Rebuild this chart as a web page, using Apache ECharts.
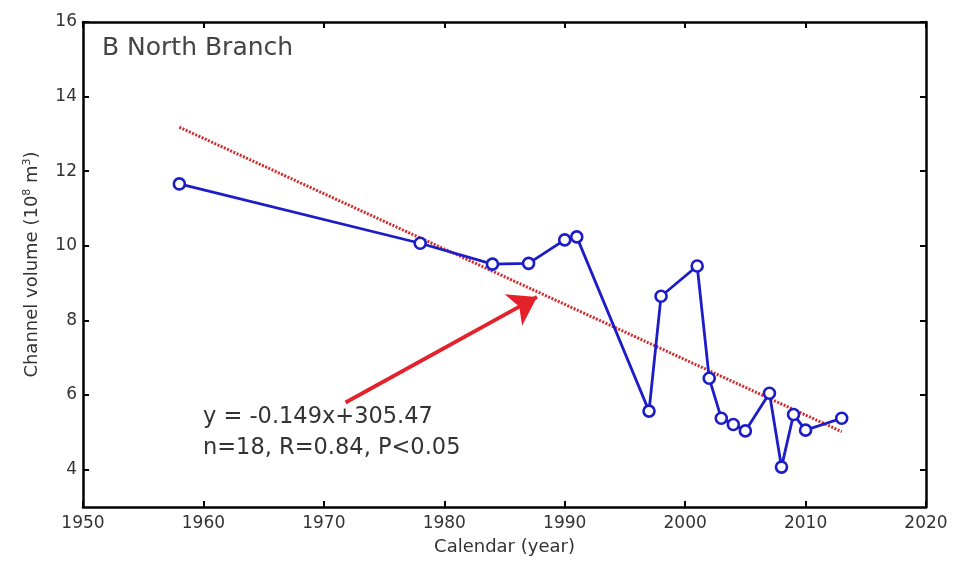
<!DOCTYPE html>
<html>
<head>
<meta charset="utf-8">
<script src="https://cdn.jsdelivr.net/npm/echarts@6/dist/echarts.min.js"></script>
<style>html,body{margin:0;padding:0;background:#fff;}#c{width:953px;height:568px;}</style>
</head>
<body>
<div id="c"></div>
<script>
// ---- data ----
const years = [1958, 1978, 1984, 1987, 1990, 1991, 1997, 1998, 2001, 2002, 2003, 2004, 2005, 2007, 2008, 2009, 2010, 2013];
const volumes = [11.66, 10.07, 9.51, 9.53, 10.16, 10.24, 5.57, 8.65, 9.46, 6.45, 5.38, 5.21, 5.04, 6.05, 4.07, 5.48, 5.06, 5.38];
const trendYears = [1958, 2013];
const trendValues = [13.18, 5.02];
const arrowStart = [1971.8, 5.8];
const arrowEnd = [1987.7, 8.63];
const yTicks = [4, 6, 8, 10, 12, 14, 16];
const xRange = [1950, 2020];
const yRange = [3, 16];
const titleText = 'B North Branch';
const eqLines = ['y = -0.149x+305.47', 'n=18, R=0.84, P<0.05'];

const FONT = 'DejaVu Sans';
const chart = echarts.init(document.getElementById('c'), null, {renderer: 'canvas'});

const axisLineStyle = {show: true, lineStyle: {color: '#000', width: 2.5}};
const tickStyle = {show: true, inside: true, length: 6, lineStyle: {color: '#000', width: 2}};

const option = {
  animation: false,
  backgroundColor: '#fff',
  grid: {left: 83, right: 27, top: 22, bottom: 61, containLabel: false},
  xAxis: [{
    type: 'value', min: xRange[0], max: xRange[1], interval: 10, position: 'bottom',
    axisLine: axisLineStyle, axisTick: tickStyle, splitLine: {show: false},
    axisLabel: {color: '#333', fontFamily: FONT, fontSize: 17, margin: 8, formatter: v => String(v)},
    name: 'Calendar (year)', nameLocation: 'middle', nameGap: 31,
    nameTextStyle: {color: '#333', fontFamily: FONT, fontSize: 18}
  }, {
    type: 'value', min: xRange[0], max: xRange[1], interval: 10, position: 'top',
    axisLine: axisLineStyle, axisTick: tickStyle, splitLine: {show: false},
    axisLabel: {show: false}
  }],
  yAxis: [{
    type: 'value', min: yRange[0], max: yRange[1], position: 'left',
    axisLine: axisLineStyle,
    axisTick: Object.assign({}, tickStyle, {customValues: yTicks}),
    splitLine: {show: false},
    axisLabel: {color: '#333', fontFamily: FONT, fontSize: 17, margin: 6, customValues: yTicks},
    name: 'Channel volume (10{sup|8} m{sup|3})', nameLocation: 'middle', nameGap: 40, nameRotate: 90,
    nameTextStyle: {color: '#333', fontFamily: FONT, fontSize: 18,
      rich: {sup: {fontSize: 11, fontFamily: FONT, color: '#333', verticalAlign: 'top', padding: [0, 0, 10, 0]}}}
  }, {
    type: 'value', min: yRange[0], max: yRange[1], position: 'right',
    axisLine: axisLineStyle,
    axisTick: Object.assign({}, tickStyle, {customValues: yTicks}),
    splitLine: {show: false},
    axisLabel: {show: false}
  }],
  series: [{
    type: 'line',
    data: trendYears.map((x, i) => [x, trendValues[i]]),
    symbol: 'none',
    lineStyle: {color: '#d42a2e', width: 3, type: [2, 1.5]},
    z: 3,
    markLine: {
      silent: true,
      symbol: ['none', 'arrow'],
      symbolSize: 27,
      label: {show: false},
      lineStyle: {color: '#e3222b', width: 3.8, type: 'solid'},
      data: [[{coord: arrowStart}, {coord: arrowEnd}]]
    }
  }, {
    type: 'line',
    data: years.map((x, i) => [x, volumes[i]]),
    symbol: 'circle', symbolSize: 11, showAllSymbol: true,
    lineStyle: {color: '#1c1cc8', width: 2.8},
    itemStyle: {color: '#fff', borderColor: '#1c1cc8', borderWidth: 2.6},
    z: 4
  }],
  graphic: [{
    type: 'text', left: 102, top: 36,
    style: {text: titleText, font: '25px "DejaVu Sans"', fill: '#444'}
  }, {
    type: 'text', left: 203, top: 402,
    style: {text: eqLines.join('\n'), font: '22.5px "DejaVu Sans"', fill: '#333', lineHeight: 31}
  }]
};
chart.setOption(option);
</script>
</body>
</html>
